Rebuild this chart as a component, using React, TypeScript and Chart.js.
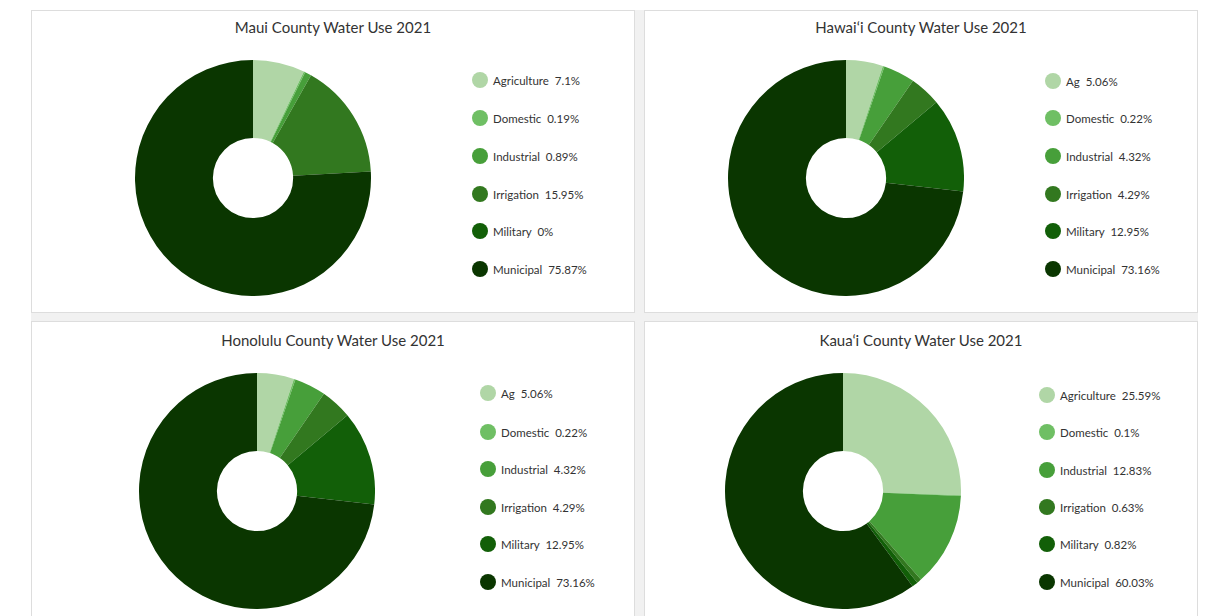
import React, { useEffect, useRef } from "react";
import { Chart, registerables } from "chart.js";

Chart.register(...registerables);

const categoriesLong = ["Agriculture", "Domestic", "Industrial", "Irrigation", "Military", "Municipal"];
const categoriesShort = ["Ag", "Domestic", "Industrial", "Irrigation", "Military", "Municipal"];

const mauiValues = [7.1, 0.19, 0.89, 15.95, 0, 75.87];
const hawaiiValues = [5.06, 0.22, 4.32, 4.29, 12.95, 73.16];
const honoluluValues = [5.06, 0.22, 4.32, 4.29, 12.95, 73.16];
const kauaiValues = [25.59, 0.1, 12.83, 0.63, 0.82, 60.03];

const sliceColors = ["#b0d6a6", "#6fbf64", "#479f3a", "#32781f", "#125f08", "#0a3600"];

const titles = [
  "Maui County Water Use 2021",
  "Hawai\u2018i County Water Use 2021",
  "Honolulu County Water Use 2021",
  "Kaua\u2018i County Water Use 2021",
];

type PanelCfg = {
  title: string;
  labels: string[];
  values: number[];
  left: number;
  top: number;
  width: number;
  height: number;
  cx: number;
  cy: number;
  r: number;
  legendX: number;
  legendY: number[];
};

const panels: PanelCfg[] = [
  { title: titles[0], labels: categoriesLong, values: mauiValues, left: 32, top: 11, width: 602, height: 301, cx: 253, cy: 178, r: 118, legendX: 480, legendY: [80, 118, 156, 194, 231, 269] },
  { title: titles[1], labels: categoriesShort, values: hawaiiValues, left: 645, top: 11, width: 552, height: 301, cx: 846, cy: 178, r: 118, legendX: 1053, legendY: [81, 118, 156, 194, 231, 269] },
  { title: titles[2], labels: categoriesShort, values: honoluluValues, left: 32, top: 322, width: 602, height: 310, cx: 257, cy: 491, r: 118, legendX: 488, legendY: [393, 432, 469, 507, 544, 582] },
  { title: titles[3], labels: categoriesLong, values: kauaiValues, left: 645, top: 322, width: 552, height: 310, cx: 843, cy: 491, r: 118, legendX: 1047, legendY: [395, 432, 470, 507, 544, 582] },
];

function Doughnut({ p }: { p: PanelCfg }) {
  const ref = useRef<HTMLCanvasElement | null>(null);
  useEffect(() => {
    if (!ref.current) return;
    const chart = new Chart(ref.current, {
      type: "doughnut",
      data: {
        labels: p.labels,
        datasets: [
          {
            data: p.values,
            backgroundColor: sliceColors,
            borderWidth: 0,
            hoverOffset: 0,
            offset: 0,
          },
        ],
      },
      options: {
        responsive: false,
        maintainAspectRatio: false,
        animation: false,
        cutout: "34%",
        layout: { padding: 0 },
        plugins: { legend: { display: false }, tooltip: { enabled: false }, title: { display: false } },
        events: [],
      },
    });
    return () => chart.destroy();
  }, [p]);
  const size = p.r * 2;
  return (
    <canvas
      ref={ref}
      width={size}
      height={size}
      style={{ position: "absolute", left: p.cx - p.r, top: p.cy - p.r, width: size, height: size }}
    />
  );
}

function Panel({ p }: { p: PanelCfg }) {
  return (
    <>
      <div
        style={{
          position: "absolute",
          left: p.left - 1,
          top: p.top - 1,
          width: p.width,
          height: p.height,
          background: "#ffffff",
          border: "1px solid #dddddd",
        }}
      />
      <div
        style={{
          position: "absolute",
          left: p.left,
          width: p.width,
          top: p.cy - 178 + 18,
          textAlign: "center",
          fontFamily: "Lato, 'Open Sans', sans-serif",
          fontSize: 15,
          color: "#333333",
          lineHeight: "18px",
        }}
      >
        {p.title}
      </div>
      <Doughnut p={p} />
      {p.labels.map((lab, i) => (
        <div
          key={lab}
          style={{
            position: "absolute",
            left: p.legendX - 8,
            top: p.legendY[i] - 8,
            height: 16,
            display: "flex",
            alignItems: "center",
            fontFamily: "Lato, 'Open Sans', sans-serif",
            fontSize: 11.5,
            color: "#333333",
            whiteSpace: "nowrap",
          }}
        >
          <span
            style={{
              display: "inline-block",
              width: 16,
              height: 16,
              borderRadius: 8,
              background: sliceColors[i],
              marginRight: 5,
            }}
          />
          <span>
            {lab}&nbsp;&nbsp;{p.values[i]}%
          </span>
        </div>
      ))}
    </>
  );
}

export default function App() {
  return (
    <div style={{ position: "fixed", left: 0, top: 0, width: 1212, height: 616, background: "#ffffff", overflow: "hidden" }}>
      <div style={{ position: "absolute", left: 31, top: 10, width: 1167, height: 606, background: "#f1f1f1" }} />
      {panels.map((p) => (
        <Panel key={p.title} p={p} />
      ))}
    </div>
  );
}
